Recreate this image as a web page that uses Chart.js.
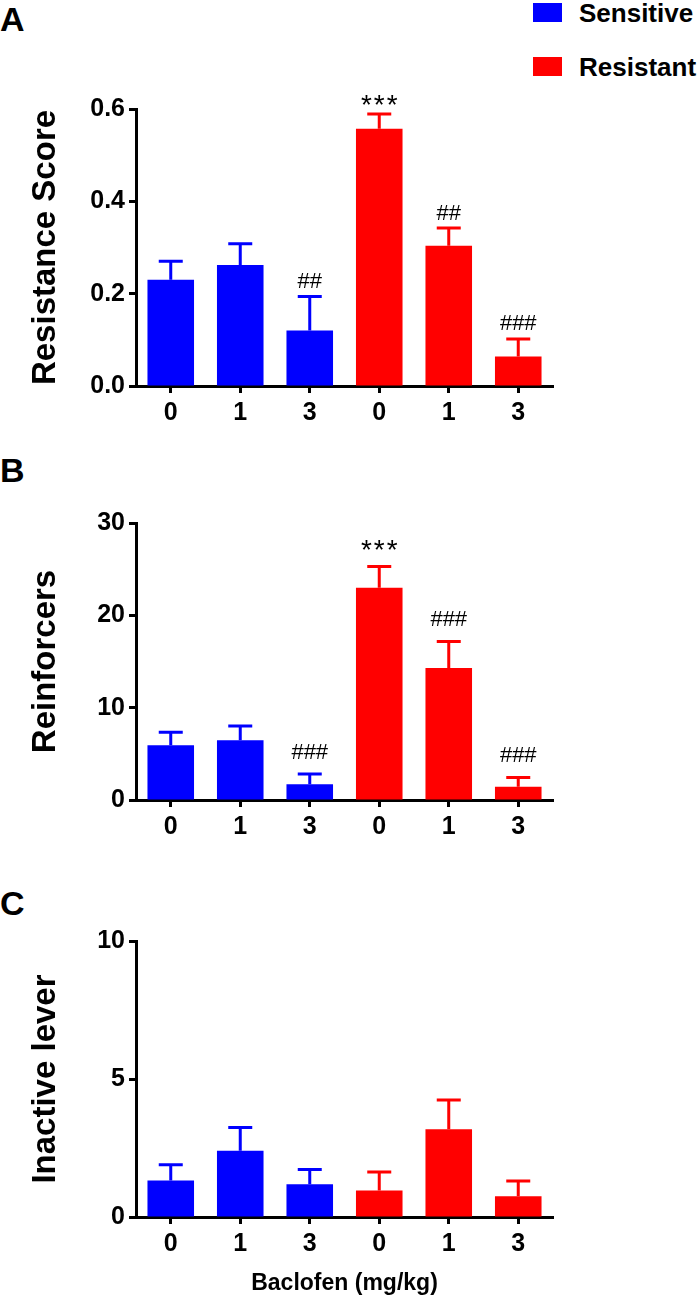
<!DOCTYPE html>
<html>
<head>
<meta charset="utf-8">
<script src="https://cdn.jsdelivr.net/npm/chart.js@4.4.0/dist/chart.umd.min.js"></script>
<style>
  body { margin: 0; background: #fff; }
  #page { position: relative; width: 698px; height: 1297px; font-family: "Liberation Sans", Arial, sans-serif; }
  canvas { position: absolute; left: 0; }
  .letter { position: absolute; left: 0; font-weight: bold; font-size: 34px; line-height: 34px; }
  .swatch { position: absolute; left: 533px; width: 29px; height: 19px; }
  .legtext { position: absolute; left: 579px; font-weight: bold; font-size: 26px; line-height: 26px; }
</style>
</head>
<body>
<div id="page">
  <div class="letter" style="top:2px">A</div>
  <div class="letter" style="top:453px">B</div>
  <div class="letter" style="top:886px">C</div>

  <div class="swatch" style="top:3px;background:#0000ff"></div>
  <div class="legtext" style="top:0px">Sensitive</div>
  <div class="swatch" style="top:57px;background:#ff0000"></div>
  <div class="legtext" style="top:54px">Resistant</div>

  <canvas id="chartA" width="698" height="360" style="top:80px"></canvas>
  <canvas id="chartB" width="698" height="374" style="top:480px"></canvas>
  <canvas id="chartC" width="698" height="397" style="top:900px"></canvas>
</div>
<script>
// baclofen doses, repeated for the two groups
const doses = ['0', '1', '3'];
const categories = [...doses, ...doses];

const blue = '#0000ff';
const red = '#ff0000';

// A - resistance score (mean, SEM)
const scoreSensitive = [0.23, 0.262, 0.12];
const scoreSensitiveSem = [0.04, 0.046, 0.074];
const scoreResistant = [0.557, 0.304, 0.064];
const scoreResistantSem = [0.032, 0.038, 0.038];
const scoreMarks = ['', '', '##', '***', '##', '###'];

// B - reinforcers
const reinfSensitive = [5.92, 6.46, 1.70];
const reinfSensitiveSem = [1.41, 1.55, 1.11];
const reinfResistant = [22.98, 14.29, 1.44];
const reinfResistantSem = [2.31, 2.88, 1.01];
const reinfMarks = ['', '', '###', '***', '###', '###'];

// C - inactive lever
const inactiveSensitive = [1.32, 2.40, 1.19];
const inactiveSensitiveSem = [0.57, 0.84, 0.53];
const inactiveResistant = [0.96, 3.18, 0.75];
const inactiveResistantSem = [0.67, 1.06, 0.55];

const FONT = '"Liberation Sans", Arial, sans-serif';

// error bars (upper only) + significance marks above them
const errorBars = {
    id: 'errorBars',
    afterDatasetsDraw(chart, args, opts) {
        const ctx = chart.ctx;
        const yScale = chart.scales.y;
        const area = chart.chartArea;

        // x axis line runs a little past the y axis, like the tick marks
        ctx.save();
        ctx.strokeStyle = '#000';
        ctx.lineWidth = 3;
        ctx.beginPath();
        ctx.moveTo(area.left - 7, area.bottom + 0.5);
        ctx.lineTo(area.left, area.bottom + 0.5);
        ctx.stroke();
        ctx.restore();

        chart.data.datasets.forEach((ds, i) => {
            const meta = chart.getDatasetMeta(i);
            meta.data.forEach((bar, j) => {
                const v = ds.data[j];
                if (v == null) return;
                const top = yScale.getPixelForValue(v + ds.sem[j]);
                ctx.save();
                ctx.strokeStyle = ds.backgroundColor;
                ctx.lineWidth = 3;
                ctx.beginPath();
                ctx.moveTo(bar.x, bar.y);
                ctx.lineTo(bar.x, top);
                ctx.moveTo(bar.x - 12, top);
                ctx.lineTo(bar.x + 12, top);
                ctx.stroke();
                const mark = opts.marks ? opts.marks[j] : '';
                if (mark) {
                    ctx.fillStyle = '#000';
                    ctx.textAlign = 'center';
                    ctx.textBaseline = 'alphabetic';
                    const mid = top - opts.gap;
                    if (mark.startsWith('*')) {
                        ctx.font = '28px ' + FONT;
                        ctx.letterSpacing = '2px';
                        ctx.fillText(mark, bar.x + 1, mid + 0.57 * 28);
                    } else {
                        ctx.font = '22px ' + FONT;
                        ctx.fillText(mark, bar.x, mid + 0.36 * 22);
                    }
                }
                ctx.restore();
            });
        });
    }
};

function pad(arr, before) {
    return before ? [...arr, null, null, null] : [null, null, null, ...arr];
}

function makePanel(id, cfg) {
    const ctx = document.getElementById(id).getContext('2d');
    return new Chart(ctx, {
        type: 'bar',
        data: {
            labels: categories,
            datasets: [{
                label: 'Sensitive',
                data: pad(cfg.sens, true),
                sem: pad(cfg.sensSem, true),
                backgroundColor: blue,
                skipNull: true
            }, {
                label: 'Resistant',
                data: pad(cfg.res, false),
                sem: pad(cfg.resSem, false),
                backgroundColor: red,
                skipNull: true
            }]
        },
        options: {
            responsive: false,
            animation: false,
            barPercentage: 0.67,
            categoryPercentage: 1,
            layout: { padding: { top: cfg.padTop, right: 145, left: 0, bottom: 0 } },
            plugins: {
                legend: { display: false },
                tooltip: { enabled: false },
                errorBars: { marks: cfg.marks, gap: cfg.gap }
            },
            scales: {
                x: {
                    afterFit: s => { s.height = cfg.xHeight; },
                    grid: { offset: false, drawOnChartArea: false, tickLength: 7, tickWidth: 3, tickColor: '#000' },
                    border: { display: true, color: '#000', width: 3 },
                    ticks: { color: '#000', padding: 5, font: { family: FONT, size: 25, weight: 'bold' } },
                    title: {
                        display: !!cfg.xTitle, text: cfg.xTitle || '', color: '#000',
                        padding: { top: 0, bottom: 0 },
                        font: { family: FONT, size: 23, weight: 'bold' }
                    }
                },
                y: {
                    min: 0,
                    max: cfg.max,
                    afterFit: s => { s.width = 136; },
                    grid: { drawOnChartArea: false, tickLength: 7, tickWidth: 3, tickColor: '#000' },
                    border: { display: true, color: '#000', width: 3 },
                    ticks: {
                        stepSize: cfg.step, color: '#000', padding: 4,
                        font: { family: FONT, size: 25, weight: 'bold' },
                        callback: v => cfg.decimals ? v.toFixed(cfg.decimals) : v
                    },
                    title: {
                        display: true, text: cfg.yTitle, color: '#000',
                        padding: { top: 26, bottom: 0 },
                        font: { family: FONT, size: 33, weight: 'bold' }
                    }
                }
            }
        },
        plugins: [errorBars]
    });
}

makePanel('chartA', {
    sens: scoreSensitive, sensSem: scoreSensitiveSem,
    res: scoreResistant, resSem: scoreResistantSem,
    marks: scoreMarks, gap: 16.5,
    max: 0.6, step: 0.2, decimals: 1,
    yTitle: 'Resistance Score',
    padTop: 29, xHeight: 54
});

makePanel('chartB', {
    sens: reinfSensitive, sensSem: reinfSensitiveSem,
    res: reinfResistant, resSem: reinfResistantSem,
    marks: reinfMarks, gap: 23,
    max: 30, step: 10,
    yTitle: 'Reinforcers',
    padTop: 43, xHeight: 54
});

makePanel('chartC', {
    sens: inactiveSensitive, sensSem: inactiveSensitiveSem,
    res: inactiveResistant, resSem: inactiveResistantSem,
    marks: null, gap: 0,
    max: 10, step: 5,
    yTitle: 'Inactive lever',
    xTitle: 'Baclofen (mg/kg)',
    padTop: 41, xHeight: 80
});
</script>
</body>
</html>
